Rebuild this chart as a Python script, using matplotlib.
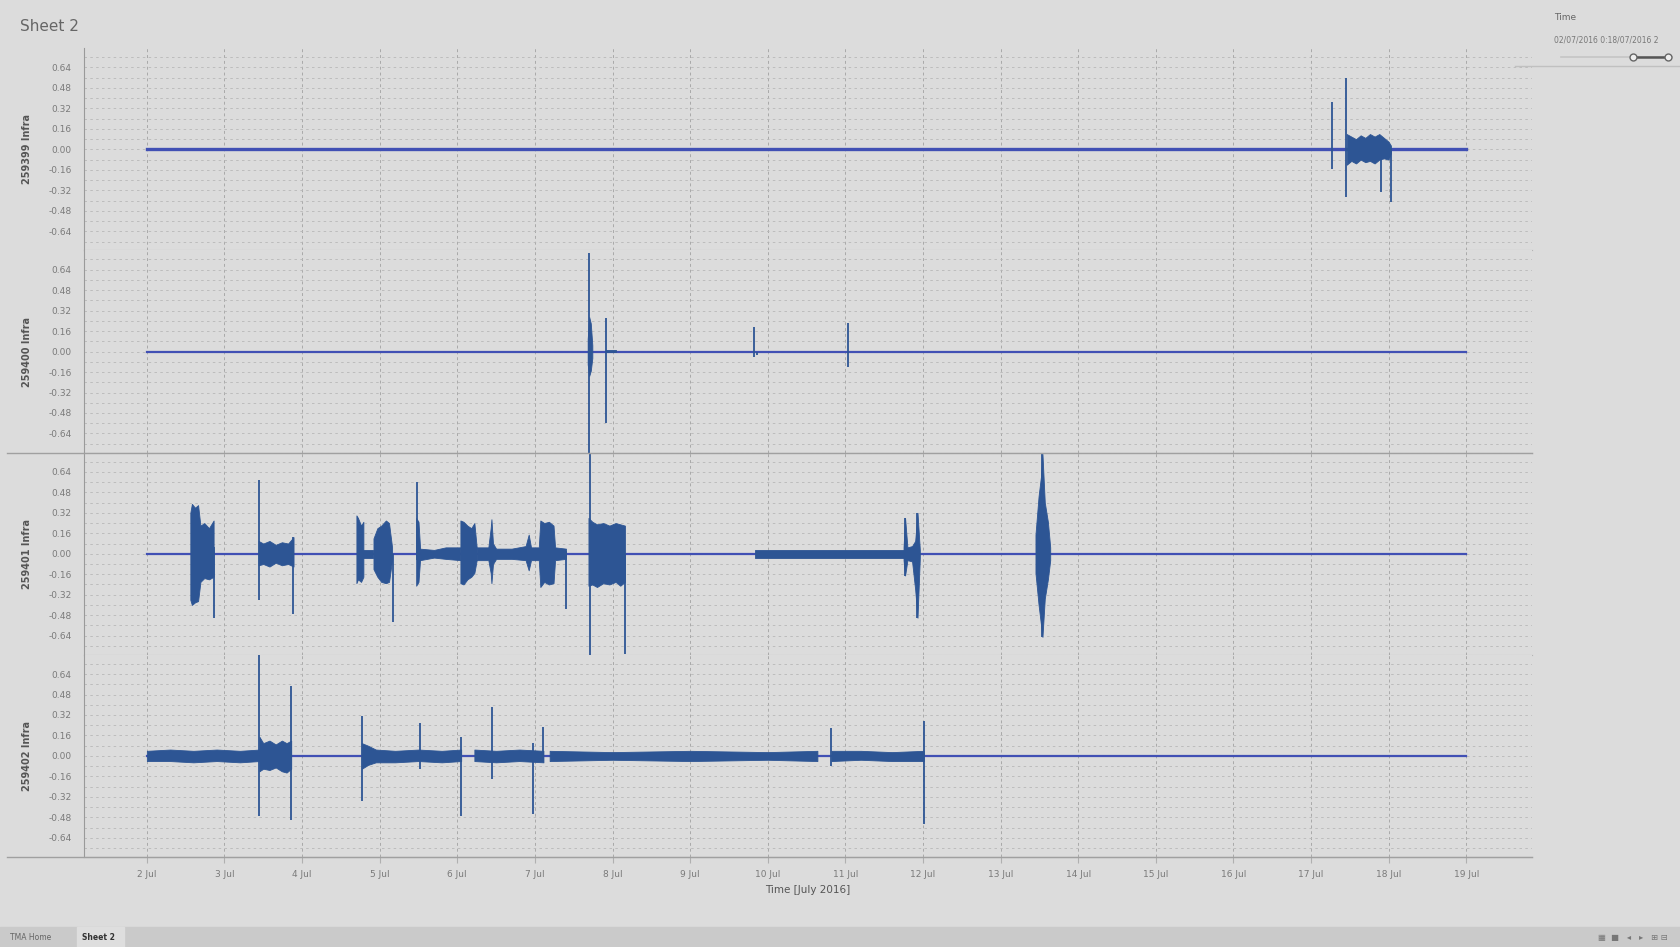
import matplotlib
matplotlib.use('Agg')
import matplotlib.pyplot as plt
from matplotlib.lines import Line2D
from matplotlib.patches import Rectangle

plt.rcParams['font.family'] = ['DejaVu Sans']

# x axis: days of July 2016
days = list(range(2, 20))
day_labels = [f'{d} Jul' for d in days]
yticks = [0.64, 0.48, 0.32, 0.16, 0.00, -0.16, -0.32, -0.48, -0.64]

sensors = ['259399 Infra', '259400 Infra', '259401 Infra', '259402 Infra']
baseline_t = [2, 19]
baseline_v = [0, 0]

# bursts: (times, upper envelope, lower envelope); spikes: (time, low, high)
s1_bursts = [
    ([17.46, 17.52, 17.58, 17.64, 17.70, 17.76, 17.82, 17.88, 17.94, 18.00, 18.03],
     [0.12, 0.10, 0.08, 0.11, 0.09, 0.12, 0.10, 0.12, 0.09, 0.06, 0.03],
     [-0.12, -0.09, -0.11, -0.08, -0.10, -0.09, -0.11, -0.08, -0.07, -0.08, -0.03]),
]
s1_spikes = [(17.27, -0.15, 0.37), (17.45, -0.37, 0.56), (17.90, -0.33, 0.0), (18.03, -0.41, 0.0)]

s2_bursts = [
    ([7.68, 7.70, 7.72, 7.74], [0.10, 0.27, 0.22, 0.05], [-0.10, -0.19, -0.15, -0.05]),
    ([7.92, 8.05], [0.015, 0.015], [-0.005, -0.005]),
]
s2_spikes = [(7.70, -0.79, 0.77), (7.91, -0.56, 0.26), (9.82, -0.04, 0.19),
             (9.86, -0.03, 0.0), (11.03, -0.12, 0.22)]

s3_bursts = [
    ([2.56, 2.58, 2.62, 2.66, 2.69, 2.74, 2.80, 2.86],
     [0.32, 0.39, 0.36, 0.38, 0.22, 0.24, 0.20, 0.26],
     [-0.36, -0.40, -0.38, -0.37, -0.22, -0.19, -0.20, -0.18]),
    ([3.44, 3.50, 3.58, 3.66, 3.74, 3.82, 3.89],
     [0.10, 0.08, 0.10, 0.07, 0.09, 0.08, 0.13],
     [-0.09, -0.08, -0.10, -0.07, -0.09, -0.08, -0.10]),
    ([4.70, 4.72, 4.76, 4.79], [0.30, 0.28, 0.22, 0.25], [-0.23, -0.20, -0.22, -0.18]),
    ([4.79, 4.92], [0.03, 0.03], [-0.03, -0.03]),
    ([4.92, 4.97, 5.02, 5.08, 5.12, 5.16],
     [0.12, 0.20, 0.22, 0.26, 0.24, 0.05],
     [-0.12, -0.18, -0.22, -0.23, -0.22, -0.05]),
    ([5.47, 5.50, 5.52], [0.28, 0.25, 0.05], [-0.25, -0.22, -0.05]),
    ([5.52, 5.70, 5.85, 6.04], [0.04, 0.03, 0.05, 0.05], [-0.05, -0.03, -0.04, -0.05]),
    ([6.04, 6.08, 6.13, 6.18, 6.22, 6.25],
     [0.26, 0.25, 0.22, 0.20, 0.24, 0.05],
     [-0.23, -0.24, -0.20, -0.18, -0.15, -0.05]),
    ([6.25, 6.40, 6.43, 6.44, 6.46, 6.50, 6.70, 6.88, 6.92, 6.95, 7.05, 7.07, 7.12, 7.18, 7.24, 7.26, 7.40],
     [0.05, 0.05, 0.20, 0.27, 0.08, 0.04, 0.04, 0.06, 0.15, 0.05, 0.05, 0.26, 0.24, 0.25, 0.22, 0.05, 0.04],
     [-0.05, -0.05, -0.15, -0.23, -0.08, -0.04, -0.04, -0.05, -0.13, -0.05, -0.05, -0.26, -0.22, -0.24, -0.23, -0.05, -0.04]),
    ([7.69, 7.74, 7.80, 7.88, 7.96, 8.04, 8.10, 8.16],
     [0.28, 0.25, 0.23, 0.24, 0.22, 0.24, 0.23, 0.22],
     [-0.25, -0.24, -0.26, -0.23, -0.24, -0.22, -0.25, -0.22]),
    ([9.84, 11.75], [0.03, 0.03], [-0.03, -0.03]),
    ([11.75, 11.77, 11.80, 11.86, 11.90, 11.93, 11.96],
     [0.05, 0.28, 0.05, 0.06, 0.10, 0.32, 0.03],
     [-0.05, -0.17, -0.05, -0.06, -0.28, -0.50, -0.03]),
    ([13.45, 13.49, 13.52, 13.54, 13.57, 13.61, 13.64],
     [0.15, 0.45, 0.60, 0.78, 0.40, 0.25, 0.05],
     [-0.15, -0.40, -0.55, -0.65, -0.35, -0.20, -0.05]),
]
s3_spikes = [(2.86, -0.50, 0.05), (3.44, -0.36, 0.58), (3.88, -0.47, 0.13),
             (5.17, -0.53, 0.0), (5.48, -0.05, 0.56), (7.40, -0.43, 0.02),
             (7.71, -0.79, 0.79), (8.16, -0.78, 0.0), (11.77, -0.17, 0.28),
             (11.92, -0.50, 0.32), (13.53, -0.65, 0.79)]

s4_bursts = [
    ([2.0, 2.3, 2.6, 2.9, 3.2, 3.45], [0.04, 0.05, 0.04, 0.05, 0.04, 0.05],
     [-0.04, -0.04, -0.05, -0.04, -0.05, -0.04]),
    ([3.45, 3.50, 3.58, 3.66, 3.74, 3.80, 3.86], [0.15, 0.10, 0.12, 0.09, 0.12, 0.10, 0.12],
     [-0.12, -0.10, -0.11, -0.09, -0.12, -0.13, -0.10]),
    ([4.77, 4.85, 4.95, 5.2, 5.5, 5.8, 6.05], [0.10, 0.08, 0.05, 0.04, 0.05, 0.04, 0.05],
     [-0.10, -0.07, -0.05, -0.05, -0.04, -0.05, -0.04]),
    ([6.22, 6.5, 6.8, 7.11], [0.05, 0.04, 0.05, 0.04], [-0.04, -0.05, -0.04, -0.05]),
    ([7.19, 8.0, 9.0, 10.0, 10.64], [0.04, 0.03, 0.04, 0.03, 0.04],
     [-0.04, -0.03, -0.04, -0.03, -0.04]),
    ([10.82, 11.2, 11.6, 12.01], [0.04, 0.04, 0.03, 0.04], [-0.04, -0.03, -0.04, -0.04]),
]
s4_spikes = [(3.45, -0.47, 0.79), (3.86, -0.50, 0.55), (4.77, -0.35, 0.31),
             (5.52, -0.10, 0.26), (6.05, -0.47, 0.15), (6.45, -0.18, 0.38),
             (6.98, -0.45, 0.10), (7.11, -0.05, 0.23), (10.82, -0.08, 0.22),
             (12.01, -0.53, 0.27)]

all_bursts = [s1_bursts, s2_bursts, s3_bursts, s4_bursts]
all_spikes = [s1_spikes, s2_spikes, s3_spikes, s4_spikes]

bg = '#dcdcdc'
wave = '#2d5594'
flat = '#4150b4'
grid_c = '#a9a9a9'
txt = '#7a7a7a'

fig = plt.figure(figsize=(16.8, 9.47), dpi=100)
fig.patch.set_facecolor(bg)

left, right, top, bottom = 0.05, 0.912, 0.949, 0.095
h = (top - bottom) / 4
axes = []
for i in range(4):
    ax = fig.add_axes([left, top - (i + 1) * h, right - left, h])
    ax.set_facecolor(bg)
    ax.set_xlim(1.19, 19.85)
    ax.set_ylim(-0.79, 0.79)
    # dashed grid, vertical per day and horizontal every 0.08
    for d in days:
        ax.axvline(d, color=grid_c, lw=0.7, ls=(0, (3, 3)), zorder=0)
    for k in range(-9, 10):
        ax.axhline(k * 0.08, color='#b7b7b7', lw=0.6, ls=(0, (3, 4)), zorder=0)
    ax.plot(baseline_t, baseline_v, color=flat, lw=2.4 if i == 0 else 1.6, zorder=2)
    for t, hi, lo in all_bursts[i]:
        ax.fill_between(t, lo, hi, color=wave, lw=0.6, edgecolor=wave, zorder=3)
    for t, lo, hi in all_spikes[i]:
        ax.vlines(t, lo, hi, color=wave, lw=1.3, zorder=3)
    ax.set_yticks(yticks)
    ax.set_yticklabels([f'{v:.2f}' for v in yticks], fontsize=6.5, color=txt)
    ax.tick_params(axis='y', length=0, pad=9)
    ax.set_xticks(days)
    if i == 3:
        ax.set_xticklabels(day_labels, fontsize=6.5, color=txt)
        ax.tick_params(axis='x', length=4, color='#b0b0b0', pad=5)
        ax.set_xlabel('Time [July 2016]', fontsize=7.5, color='#555555', labelpad=5)
    else:
        ax.set_xticklabels([])
        ax.tick_params(axis='x', length=0)
    ax.set_ylabel(sensors[i], fontsize=7, fontweight='bold', color='#555555')
    ax.yaxis.set_label_coords(-0.036, 0.5)
    for s in ['top', 'right']:
        ax.spines[s].set_visible(False)
    ax.spines['left'].set_color('#9a9a9a')
    ax.spines['left'].set_linewidth(0.8)
    ax.spines['bottom'].set_color('#b5b5b5')
    ax.spines['bottom'].set_linewidth(0.8)
    axes.append(ax)

# separator rules across the sheet
for y in [top - 2 * h, bottom]:
    fig.add_artist(Line2D([0.004, right], [y, y], color='#a0a0a0', lw=1.0))

fig.text(0.012, 0.972, 'Sheet 2', fontsize=11, color='#666666', va='center')

# time filter card on the right
fig.text(0.925, 0.982, 'Time', fontsize=6.5, color='#666666', va='center')
fig.text(0.925, 0.958, '02/07/2016 0:18/07/2016 2', fontsize=5.5, color='#777777', va='center')
fig.add_artist(Line2D([0.929, 0.995], [0.940, 0.940], color='#c4c4c4', lw=1.2))
fig.add_artist(Line2D([0.972, 0.993], [0.940, 0.940], color='#555555', lw=1.8))
fig.add_artist(Line2D([0.972], [0.940], marker='o', ms=5, mfc='#eeeeee', mec='#666666'))
fig.add_artist(Line2D([0.993], [0.940], marker='o', ms=5, mfc='#eeeeee', mec='#666666'))
fig.add_artist(Line2D([0.902, 1.0], [0.930, 0.930], color='#c0c0c0', lw=1.0))

# bottom tab strip
fig.add_artist(Rectangle((0, 0), 1, 0.021, color='#cacaca', zorder=0))
fig.add_artist(Rectangle((0.046, 0.0), 0.028, 0.021, color='#dedede', zorder=1))
fig.text(0.006, 0.0105, 'TMA Home', fontsize=5.5, color='#666666', va='center')
fig.text(0.049, 0.0105, 'Sheet 2', fontsize=5.5, color='#333333', fontweight='bold', va='center')
fig.text(0.993, 0.0105, '▦  ■   ◂   ▸   ⊞ ⊟', fontsize=6, color='#777777', va='center', ha='right')

fig.savefig('out.png', dpi=100, facecolor=bg)
